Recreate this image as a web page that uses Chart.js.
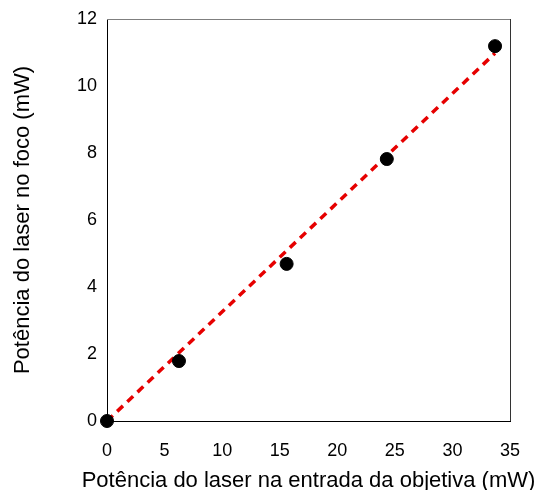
<!DOCTYPE html>
<html>
<head>
<meta charset="utf-8">
<script src="https://cdn.jsdelivr.net/npm/chart.js@4/dist/chart.umd.min.js"></script>
<style>
  html, body { margin: 0; padding: 0; background: #fff; }
  #wrap { width: 535px; height: 490px; overflow: hidden; }
</style>
</head>
<body>
<div id="wrap"><canvas id="chart" width="535" height="490"></canvas></div>
<script>
// Measured points (input power vs power at focus, mW)
const inputPower = [0, 6.25, 15.6, 24.3, 33.7];
const focusPower = [0, 1.79, 4.69, 7.82, 11.19];

// Linear fit line (dashed red)
const fitX = [0, 33.7];
const fitY = [0, 10.98];

const xTicks = [0, 5, 10, 15, 20, 25, 30, 35];
const yTicks = [0, 2, 4, 6, 8, 10, 12];

const xTitle = 'Potência do laser na entrada da objetiva (mW)';
const yTitle = 'Potência do laser no foco (mW)';

const font = 'Liberation Sans, Arial, sans-serif';

// Plot frame: gray top, dark right (axes draw the black left/bottom)
const framePlugin = {
    id: 'frame',
    beforeDatasetsDraw(chart) {
        const a = chart.chartArea;
        const ctx = chart.ctx;
        ctx.save();
        ctx.lineWidth = 1;
        ctx.strokeStyle = '#7f7f7f';
        ctx.beginPath();
        ctx.moveTo(a.left, a.top + 0.5);
        ctx.lineTo(a.right + 0.5, a.top + 0.5);
        ctx.stroke();
        ctx.strokeStyle = '#333';
        ctx.beginPath();
        ctx.moveTo(a.right + 0.5, a.top);
        ctx.lineTo(a.right + 0.5, a.bottom);
        ctx.stroke();
        ctx.restore();
    }
};

// x title is wider than the plot, so draw it without Chart.js' maxWidth squeeze
const xTitlePlugin = {
    id: 'xTitle',
    afterDraw(chart) {
        const a = chart.chartArea;
        const ctx = chart.ctx;
        ctx.save();
        ctx.font = '22px ' + font;
        ctx.fillStyle = '#000';
        ctx.textAlign = 'center';
        ctx.textBaseline = 'middle';
        ctx.fillText(xTitle, (a.left + a.right) / 2, 481);
        ctx.restore();
    }
};

new Chart(document.getElementById('chart'), {
    type: 'scatter',
    data: {
        datasets: [
            {
                label: 'fit',
                data: fitX.map((x, i) => ({ x: x, y: fitY[i] })),
                showLine: true,
                borderColor: '#e60000',
                borderWidth: 3.5,
                borderDash: [8, 6],
                pointRadius: 0,
                clip: false,
                order: 2
            },
            {
                label: 'data',
                data: inputPower.map((x, i) => ({ x: x, y: focusPower[i] })),
                backgroundColor: '#000',
                borderColor: '#000',
                pointRadius: 6.5,
                pointHoverRadius: 6.5,
                clip: false,
                order: 1
            }
        ]
    },
    options: {
        responsive: false,
        animation: false,
        devicePixelRatio: 1,
        layout: { padding: { left: 0, right: 25, top: 19, bottom: 0 } },
        plugins: {
            legend: { display: false },
            tooltip: { enabled: false }
        },
        scales: {
            x: {
                type: 'linear',
                min: 0,
                max: 35,
                afterBuildTicks: s => { s.ticks = xTicks.map(v => ({ value: v })); },
                afterFit: s => { s.height = 69; s.paddingLeft = 0; s.paddingRight = 0; },
                grid: { display: false, drawTicks: false },
                border: { display: true, color: '#000', width: 1 },
                ticks: { color: '#000', padding: 19, font: { family: font, size: 18 } },
                title: { display: false }
            },
            y: {
                type: 'linear',
                min: 0,
                max: 12,
                afterBuildTicks: s => { s.ticks = yTicks.map(v => ({ value: v })); },
                afterFit: s => { s.width = 107; s.paddingTop = 0; s.paddingBottom = 0; },
                grid: { display: false, drawTicks: false },
                border: { display: true, color: '#000', width: 1 },
                ticks: { color: '#000', padding: 10, font: { family: font, size: 18 } },
                title: {
                    display: true,
                    text: yTitle,
                    color: '#000',
                    padding: { top: 10, bottom: 0 },
                    font: { family: font, size: 22 }
                }
            }
        }
    },
    plugins: [framePlugin, xTitlePlugin]
});
</script>
</body>
</html>
